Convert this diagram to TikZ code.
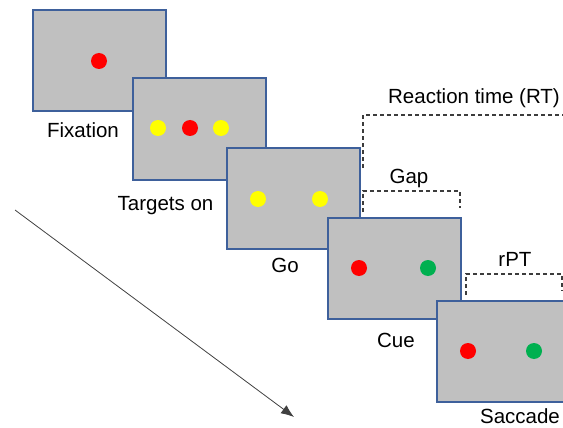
\documentclass[tikz,border=0pt]{standalone}
\usepackage{fontspec}
\setmainfont{Liberation Sans}
\usetikzlibrary{arrows.meta}
\definecolor{scrfill}{RGB}{192,192,192}
\definecolor{scredge}{RGB}{62,96,155}
\definecolor{dotred}{RGB}{255,0,0}
\definecolor{dotyel}{RGB}{255,255,0}
\definecolor{dotgrn}{RGB}{0,176,80}
\definecolor{dashgray}{RGB}{60,60,60}
\begin{document}
\begin{tikzpicture}[x=1pt,y=-1pt,
  screen/.style={draw=scredge,fill=scrfill,line width=2pt,minimum width=133pt,minimum height=101pt,inner sep=0pt},
  dot/.style={circle,inner sep=0pt,minimum size=16pt},
  lbl/.style={anchor=base,inner sep=0pt,font=\fontsize{20.5}{24}\selectfont},
  bracket/.style={draw=dashgray,line width=1.1pt,dash pattern=on 4pt off 3pt}]
\useasboundingbox (0,0) rectangle (563,428);
% screens
\node[screen] (s1) at (99.5,60.5) {};
\node[dot,fill=dotred] (f1) at (99,61) {};
\node[screen] (s2) at (199.5,129) {};
\node[dot,fill=dotyel] (t1) at (158,128) {};
\node[dot,fill=dotred] (t2) at (190,128) {};
\node[dot,fill=dotyel] (t3) at (221,128) {};
\node[screen] (s3) at (293.5,198) {};
\node[dot,fill=dotyel] (g1) at (258,199) {};
\node[dot,fill=dotyel] (g2) at (320,199) {};
\node[screen] (s4) at (394.5,268) {};
\node[dot,fill=dotred] (c1) at (359,268) {};
\node[dot,fill=dotgrn] (c2) at (428,268) {};
\node[screen] (s5) at (503.5,351) {};
\node[dot,fill=dotred] (a1) at (468,351) {};
\node[dot,fill=dotgrn] (a2) at (534,351) {};
% labels
\node[lbl] (lfix) at (83,138) {Fixation};
\node[lbl] (ltar) at (165.5,210) {Targets on};
\node[lbl] (lgo) at (285,272) {Go};
\node[lbl] (lcue) at (396,347) {Cue};
\node[lbl] (lsac) at (520,423) {Saccade};
\node[lbl] (lrt) at (474,104) {Reaction time (RT)};
\node[lbl] (lgap) at (409,183) {Gap};
\node[lbl] (lrpt) at (515,266) {rPT};
% brackets
\coordinate (rtA) at (363,168);
\coordinate (rtB) at (563,115);
\draw[bracket] (rtA) |- (rtB);
\coordinate (gpA) at (363,212);
\coordinate (gpB) at (460,208);
\draw[bracket] (gpA) -- (363,191) -| (gpB);
\coordinate (rpA) at (466,295);
\coordinate (rpB) at (562,291);
\draw[bracket] (rpA) -- (466,274) -| (rpB);
% time arrow
\coordinate (arA) at (15,210);
\coordinate (arB) at (294,417);
\draw[line width=0.8pt,draw=black!75,-{Latex[length=13pt,width=10pt]}] (arA) -- (arB);
\end{tikzpicture}
\end{document}
